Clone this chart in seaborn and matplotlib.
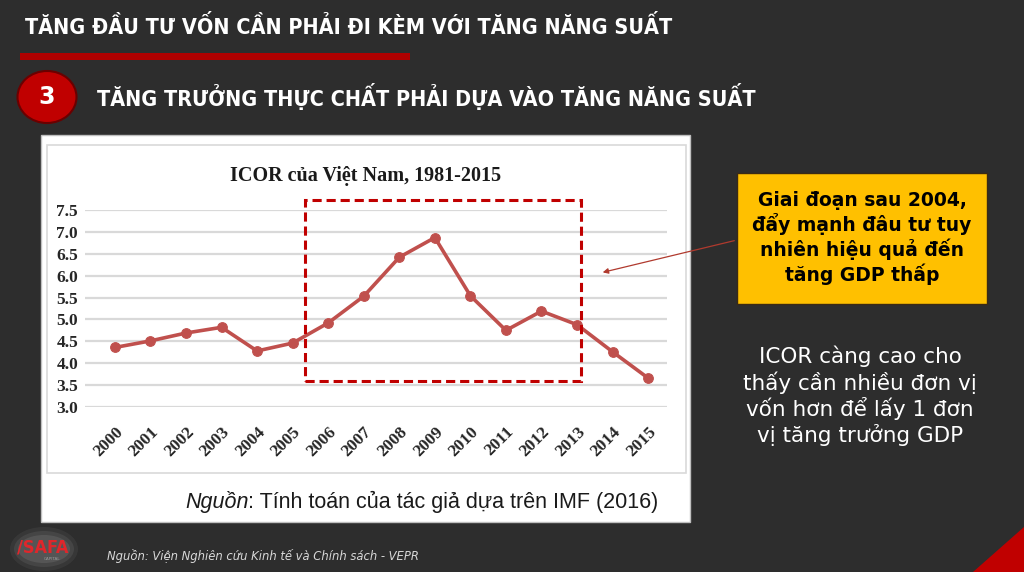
import numpy as np
import pandas as pd
import seaborn as sns
import matplotlib.pyplot as plt
from matplotlib.patches import Rectangle, Ellipse, Polygon, FancyArrowPatch

# ----- data -----
years = list(range(2000, 2016))
icor = [4.36, 4.51, 4.69, 4.82, 4.28, 4.46, 4.92, 5.53,
        6.42, 6.87, 5.54, 4.75, 5.19, 4.88, 4.26, 3.66]
y_ticks = [3.0, 3.5, 4.0, 4.5, 5.0, 5.5, 6.0, 6.5, 7.0, 7.5]

header = "TĂNG ĐẦU TƯ VỐN CẦN PHẢI ĐI KÈM VỚI TĂNG NĂNG SUẤT"
subtitle = "TĂNG TRƯỞNG THỰC CHẤT PHẢI DỰA VÀO TĂNG NĂNG SUẤT"
chart_title = "ICOR của Việt Nam, 1981-2015"
source_lead = "Nguồn"
source_rest = ": Tính toán của tác giả dựa trên IMF (2016)"
callout = "Giai đoạn sau 2004,\nđẩy mạnh đâu tư tuy\nnhiên hiệu quả đến\ntăng GDP thấp"
note = "ICOR càng cao cho\nthấy cần nhiều đơn vị\nvốn hơn để lấy 1 đơn\nvị tăng trưởng GDP"
footer = "Nguồn: Viện Nghiên cứu Kinh tế và Chính sách - VEPR"

df = pd.DataFrame({"year": years, "icor": icor})

# ----- figure -----
W, H = 1024, 572
bg = "#2d2d2d"
line_red = "#c0504d"
serif = ["Liberation Serif", "DejaVu Serif"]


def fx(px):
    return px / W


def fy(py):
    return 1 - py / H


fig = plt.figure(figsize=(W / 100, H / 100), dpi=100, facecolor=bg)

# header text and red bar
fig.text(fx(25), fy(27), header, color="white", fontsize=15.5, fontweight="bold",
         fontstretch="condensed", ha="left", va="center")
fig.add_artist(Rectangle((fx(20), fy(60)), fx(390), 7 / H, transform=fig.transFigure,
                         facecolor="#b00000", edgecolor="none"))

# numbered circle + subtitle
fig.add_artist(Ellipse((fx(47), fy(97)), fx(59), 52 / H, transform=fig.transFigure,
                       facecolor="#c00000", edgecolor="#6a0000", linewidth=1.5))
fig.text(fx(47), fy(97), "3", color="white", fontsize=17, fontweight="bold",
         ha="center", va="center")
fig.text(fx(97), fy(97), subtitle, color="white", fontsize=15.5, fontweight="bold",
         fontstretch="condensed", ha="left", va="center")

# white chart panel
fig.add_artist(Rectangle((fx(41), fy(522)), fx(649), 387 / H, transform=fig.transFigure,
                         facecolor="white", edgecolor="#bfbfbf", linewidth=1))
fig.add_artist(Rectangle((fx(47), fy(473)), fx(639), 328 / H, transform=fig.transFigure,
                         facecolor="white", edgecolor="#d9d9d9", linewidth=1.2))

fig.text(fx(366), fy(176), chart_title, color="#1a1a1a", fontsize=14.5, fontweight="bold",
         family=serif, ha="center", va="center")

# ----- line chart -----
ax = fig.add_axes([fx(85), fy(407), fx(667 - 85), (407 - 210) / H])
ax.set_zorder(3)
ax.set_facecolor("none")
sns.lineplot(data=df, x="year", y="icor", ax=ax, color=line_red, linewidth=2.6,
             marker="o", markersize=7, markeredgecolor=line_red, zorder=3)
ax.set_xlim(1999.16, 2015.53)
ax.set_ylim(3.0, 7.5)
ax.set_yticks(y_ticks)
ax.set_yticklabels([f"{v:.1f}" for v in y_ticks], family=serif, fontsize=12.5,
                   fontweight="bold", color="#262626")
ax.set_xticks(years)
ax.set_xticklabels([str(y) for y in years], family=serif, fontsize=12.5,
                   fontweight="bold", color="#262626",
                   rotation=45, ha="right", rotation_mode="anchor")
ax.tick_params(axis="both", length=0)
ax.tick_params(axis="y", pad=5)
ax.tick_params(axis="x", pad=12)
ax.grid(axis="y", color="#d9d9d9", linewidth=1.6)
ax.set_axisbelow(True)
for s in ax.spines.values():
    s.set_visible(False)
ax.set_xlabel("")
ax.set_ylabel("")

# dashed highlight box
ax.add_patch(Rectangle((2005.35, 3.6), 2013.1 - 2005.35, 7.73 - 3.6, fill=False,
                       edgecolor="#c00000", linewidth=2.2, linestyle=(0, (3, 1.6)),
                       clip_on=False, zorder=4))

# source line inside panel ("Nguồn" italic, rest upright)
lead = fig.text(fx(185), fy(502), source_lead, color="#1a1a1a", fontsize=15.5,
                style="italic", family="Liberation Sans", ha="left", va="center")
renderer = fig.canvas.get_renderer()
lead_end = lead.get_window_extent(renderer).x1
fig.text(lead_end / W, fy(502), source_rest, color="#1a1a1a", fontsize=15.5,
         family="Liberation Sans", ha="left", va="center")

# ----- callout -----
fig.add_artist(Rectangle((fx(737), fy(304)), fx(250), 131 / H, transform=fig.transFigure,
                         facecolor="#ffc000", edgecolor="#3b2a14", linewidth=1))
fig.text(fx(862), fy(238), callout, color="black", fontsize=13.5, fontweight="bold",
         ha="center", va="center", linespacing=1.2)
fig.add_artist(FancyArrowPatch((fx(737), fy(240)), (fx(600), fy(273)),
                               transform=fig.transFigure, arrowstyle="-|>",
                               mutation_scale=8, color="#b03a2e", linewidth=0.9))

fig.text(fx(860), fy(396), note, color="white", fontsize=15.5, ha="center",
         va="center", linespacing=1.2)

# ----- footer -----
for a, s in [(0.05, 44), (0.07, 36), (0.09, 28)]:
    fig.add_artist(Ellipse((fx(44), fy(549)), fx(s + 24), s / H,
                           transform=fig.transFigure, facecolor="white",
                           edgecolor="none", alpha=a))
fig.text(fx(17), fy(547), "/SAFA", color="#e0262b", fontsize=13, fontweight="bold",
         fontstretch="condensed", ha="left", va="center")
fig.text(fx(52), fy(559), "CAPITAL", color="#9a9a9a", fontsize=3, ha="center",
         va="center")
fig.text(fx(107), fy(556), footer, color="#d8d8d8", fontsize=9.3, style="italic",
         fontstretch="condensed", ha="left", va="center")

fig.add_artist(Polygon([(fx(973), 0), (1, fy(527)), (1, 0)], closed=True,
                       transform=fig.transFigure, facecolor="#c00000",
                       edgecolor="none"))

fig.savefig("out.png", dpi=100, facecolor=bg)
